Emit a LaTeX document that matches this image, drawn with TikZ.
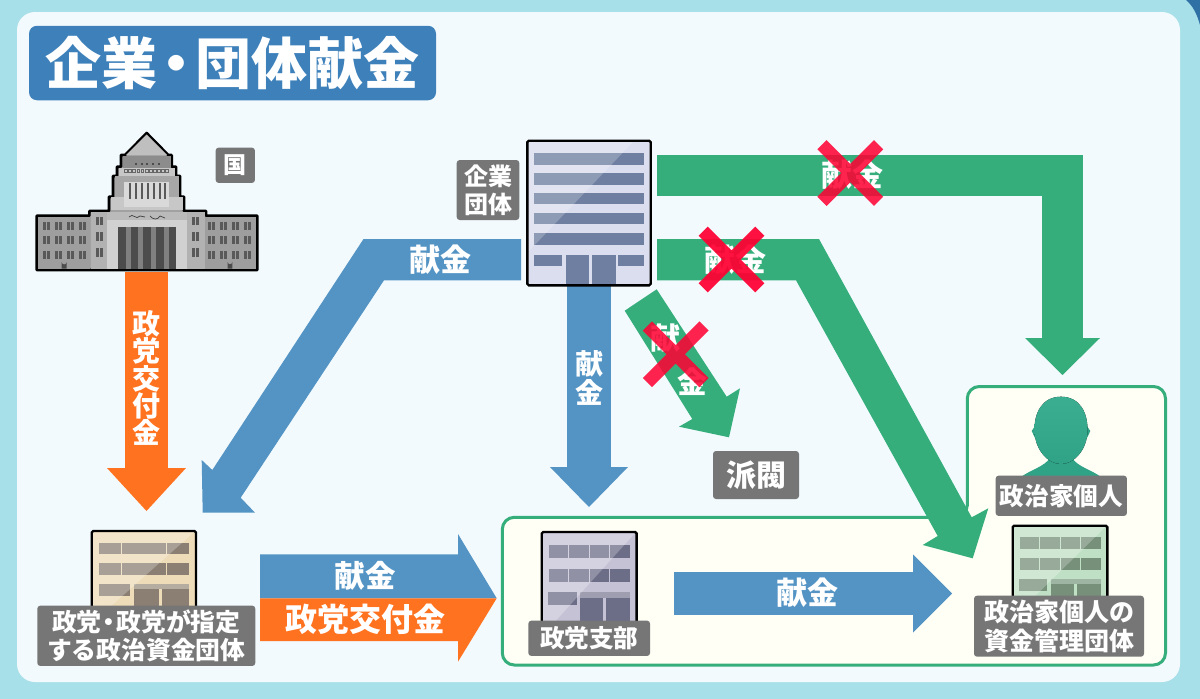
\documentclass[tikz,border=0pt]{standalone}
\usepackage{fontspec}
\setmainfont{Noto Sans CJK JP}
\usetikzlibrary{arrows.meta}
\definecolor{bgteal}{HTML}{A8E0E9}
\definecolor{inner}{HTML}{F2FAFD}
\definecolor{cornerblue}{HTML}{2F70A5}
\definecolor{titleblue}{HTML}{3D80BA}
\definecolor{flowblue}{HTML}{5494C4}
\definecolor{floworange}{HTML}{FF7220}
\definecolor{flowgreen}{HTML}{36AE7C}
\definecolor{tagbg}{HTML}{767676}
\definecolor{panelbg}{HTML}{FFFFF6}
\definecolor{crossred}{RGB}{255,0,50}
\definecolor{personc}{HTML}{3BAE92}
\definecolor{persond}{HTML}{30A387}
\tikzset{
  tag/.style={fill=tagbg,rounded corners=3pt,text=white,font=\bfseries,inner sep=0pt,align=center},
  flowtext/.style={text=white,font=\bfseries,inner sep=0pt,align=center},
  shaft/.style={line width=#1,line join=miter},
  crossbar/.style={crossred,line width=13pt,opacity=.86},
  bldframe/.style={draw=black,line width=2.4pt,rounded corners=1.5pt},
}
% low building: x, y, xscale, yscale, wall, window, band
\newcommand{\lowbld}[7]{%
\begin{scope}[shift={(#1,#2)},xscale=#3,yscale=#4]
  \path[bldframe,fill=#5] (0,0) rectangle (104.3,90);
  \foreach \cx in {7.3,29.8,52.3,74.8}{
    \fill[#6] (\cx+.4,11.7) rectangle (\cx+22.1,23.3);
    \fill[#6] (\cx+.4,32.3) rectangle (\cx+22.1,44);
  }
  \fill[#6] (7.3,53.3) rectangle (38.3,65);
  \fill[#7] (42.3,53.3) rectangle (97.3,58.3);
  \fill[#6] (42.3,58.3) rectangle (67.6,90);
  \fill[#6] (70.6,58.3) rectangle (97.3,90);
  \fill[white,opacity=.25] (1.5,1.5) -- (102,1.5) -- (1.5,91) -- cycle;
\end{scope}}
\begin{document}
\begin{tikzpicture}[x=1pt,y=-1pt]
\useasboundingbox (0,0) rectangle (1200,699);
% backgrounds
\fill[bgteal] (0,0) rectangle (1200,699);
\fill[cornerblue] (1186,0) .. controls (1193,6) and (1197,14) .. (1200,25) -- (1200,0) -- cycle;
\fill[inner,rounded corners=18pt] (17,12) rectangle (1180,682);
% panels
\draw[flowgreen,line width=3pt,fill=panelbg,rounded corners=12pt]
  (502.3,517.3) -- (967.3,517.3) -- (967.3,386.5) -- (1165.5,386.5) -- (1165.5,665) -- (502.3,665) -- cycle;
% title
\node[fill=titleblue,rounded corners=8pt,text=white,font=\bfseries\fontsize{56}{60}\selectfont,
  minimum width=407pt,minimum height=74.5pt,inner sep=0pt] (title) at (232.5,63) {企業\hspace{-9pt}・\hspace{-9pt}団体献金};

% named connector ends
\coordinate (dietOut) at (146.5,272);
\coordinate (partyIn) at (146.5,511);
\coordinate (companyDown) at (589,285);
\coordinate (branchIn) at (589,507);
\coordinate (companyTop) at (657,175.7);
\coordinate (topBend) at (1062.5,175.7);
\coordinate (personIn) at (1062.5,375);
\coordinate (branchOut) at (674,593.5);
\coordinate (fundIn) at (952,593.5);
% orange down
\draw[shaft=43pt,floworange,-{Triangle[length=43pt 0 0,width=79pt 0 0,line width=0pt]}] (dietOut) -- (partyIn);
% blue down
\draw[shaft=43.4pt,flowblue,-{Triangle[length=40pt 0 0,width=78pt 0 0,line width=0pt]}] (companyDown) -- (branchIn);
% green to person
\draw[shaft=41.5pt,flowgreen,-{Triangle[length=37pt 0 0,width=75pt 0 0,line width=0pt]}] (companyTop) -- (topBend) -- (personIn);
% blue branch to fund
\draw[shaft=43.3pt,flowblue,-{Triangle[length=39pt 0 0,width=78pt 0 0,line width=0pt]}] (branchOut) -- (fundIn);
% blue company to party
\fill[flowblue] (521,239) -- (363.5,239) -- (212.3,470) -- (201.7,460) -- (202.7,512.7) -- (255,512.7) -- (240.7,497.7) -- (384,280.3) -- (521,280.3) -- cycle;
% green company to fund
\fill[flowgreen] (657,239) -- (819,239) -- (971.7,517.3) -- (988.3,508.3) -- (972.7,558.3) -- (922.7,545) -- (937.7,536) -- (796,280.3) -- (657,280.3) -- cycle;
% green company to faction
\fill[flowgreen] (656.7,289.3) -- (726.7,396.7) -- (740,388.3) -- (729,437.3) -- (679,426.7) -- (692.3,419) -- (624.7,310.7) -- cycle;
% double arrow
\fill[flowblue] (260,554.3) -- (458,554.3) -- (458,534) -- (496.7,598.3) -- (260,598.3) -- cycle;
\fill[floworange] (260,598.3) -- (496.7,598.3) -- (458,661.7) -- (458,641) -- (260,641) -- cycle;

% Diet building
\draw[line width=2.6pt,line join=round,fill=black!37]
 (146.7,133) -- (168.3,155) -- (171.7,155) -- (171.7,166.7) -- (176,166.7) -- (176,176) -- (180,176) -- (180,196.7) -- (184,196.7) -- (184,211) -- (206,211) -- (206,215.7) -- (257.3,215.7) -- (257.3,270) -- (36.7,270) -- (36.7,215.7) -- (89.3,215.7) -- (89.3,211) -- (109,211) -- (109,196.7) -- (113,196.7) -- (113,176) -- (117,176) -- (117,166.7) -- (121,166.7) -- (121,155) -- (125,155) -- cycle;
\fill[black!25] (146.7,134.5) -- (167,155) -- (126,155) -- cycle;
\fill[black!45] (122.5,156) rectangle (170.5,168);
\foreach \sx in {135,140.7,146.4,152.1,157.8}{\fill[black!70] (\sx,163.2) rectangle (\sx+2,165);}
\fill[black!22] (118.5,168) rectangle (174.5,176);
\foreach \sx in {124.5,128.6,132.7,136.8,140.9,145,149.1,153.2,157.3,161.4,165.5}{\draw[black!60,line width=.5pt] (\sx,169.5) rectangle (\sx+2.8,172.5);}
\fill[black!35] (114.5,176) rectangle (178.5,197);
\fill[black!22] (110.5,197) rectangle (182.5,209.7);
\fill[black!15] (124.3,181.7) rectangle (169.3,207.3);
\foreach \sx in {129,135,141,147,153,159,164}{\fill[black!65] (\sx,182.5) rectangle (\sx+2.2,199);}
\fill[black!30] (90.5,212.3) rectangle (205,268.7);
\fill[black!38] (38,217) rectangle (90,268.7);
\fill[black!38] (205,217) rectangle (256,268.7);
\fill[black!27] (106.7,211.5) rectangle (187.3,220);
\fill[black!18] (106.7,220) rectangle (187.3,268.7);
\fill[black!50] (118.3,226.7) rectangle (176,268.7);
\foreach \sx in {118.3,130.7,143.3,156.3,168.7}{\fill[black!70] (\sx,226.7) rectangle (\sx+7.3,268.7);}
\draw[black!75,line width=.7pt] (129,217) .. controls (133,212) and (136,221) .. (140,216) -- (145,217);
\draw[black!75,line width=.7pt] (150,216) .. controls (153,220) and (158,220) .. (160,216) -- (165,218);
\foreach \wy in {221.7,236,250.7}{
  \foreach \wx in {43,55,67,79,208,220,232,244}{
    \fill[black!65] (\wx,\wy) rectangle (\wx+2.8,\wy+8);
    \fill[black!65] (\wx+4.4,\wy) rectangle (\wx+7.2,\wy+8);
  }
}
\foreach \wy in {216.7,232.3,248.3}{
  \foreach \wx in {95.7,191.7}{
    \fill[black!65] (\wx,\wy) rectangle (\wx+2.8,\wy+8.3);
    \fill[black!65] (\wx+4.2,\wy) rectangle (\wx+7,\wy+8.3);
  }
}
\fill[black!70] (61.7,268.7) -- (61.7,262) arc[start angle=180,end angle=0,radius=2.5] -- (66.7,268.7) -- cycle;
\fill[black!70] (227.7,268.7) -- (227.7,262) arc[start angle=180,end angle=0,radius=2.3] -- (232.3,268.7) -- cycle;

% company building
\path[bldframe,fill={rgb,255:red,218;green,222;blue,238}] (527.3,140.7) rectangle (650.7,285.3);
\definecolor{cowin}{HTML}{6F7FA1}
\foreach \ry/\rb in {153.3/164.7,173.3/184.7,193.3/204.3,212.7/224.3,233.3/245}{\fill[cowin] (534.3,\ry) rectangle (644,\rb);}
\fill[cowin] (534.3,254.7) rectangle (562.3,266);
\fill[cowin] (617.7,254.7) rectangle (644,266);
\fill[cowin] (566,254.7) rectangle (589,284);
\fill[cowin] (591.7,254.7) rectangle (615.7,284);
\fill[white,opacity=.22] (529,142) -- (633,142) -- (529,251) -- cycle;

% low buildings
\definecolor{wallA}{HTML}{EEDCB8}\definecolor{winA}{HTML}{8B7F74}\definecolor{bandA}{HTML}{B5ADA0}
\definecolor{wallB}{HTML}{C6C2D6}\definecolor{winB}{HTML}{6C6D87}\definecolor{bandB}{HTML}{9F9DB0}
\definecolor{wallC}{HTML}{BFE0C5}\definecolor{winC}{HTML}{76907A}\definecolor{bandC}{HTML}{9DB5A2}
\lowbld{91.7}{531}{1}{1}{wallA}{winA}{bandA}
\lowbld{541.7}{532}{.91}{1.13}{wallB}{winB}{bandB}
\lowbld{1012.7}{525.7}{.907}{1}{wallC}{winC}{bandC}

% person
\fill[persond] (1021,477) .. controls (1030,470) and (1044,467) .. (1050,458) -- (1072,458) .. controls (1078,467) and (1092,470) .. (1101,477) -- cycle;
\fill[persond] (1035,426) -- (1031.7,431) -- (1035,438) -- cycle;
\fill[persond] (1087,426) -- (1090.3,431) -- (1087,438) -- cycle;
\fill[top color=personc,bottom color=persond] (1061,396.7) .. controls (1042,396.7) and (1034,413) .. (1034.5,431) .. controls (1035,450) and (1048,464) .. (1061,464) .. controls (1074,464) and (1087,450) .. (1087.5,431) .. controls (1088,413) and (1080,396.7) .. (1061,396.7) -- cycle;

% tags
\node[tag,font=\bfseries\fontsize{23}{25}\selectfont,minimum width=39.3pt,minimum height=35.3pt] (tagKuni) at (235.3,165.3) {国};
\node[tag,font=\bfseries\fontsize{24}{28}\selectfont,minimum width=62.6pt,minimum height=60pt] (tagCompany) at (488,190) {企業\\団体};
\node[tag,font=\bfseries\fontsize{30}{32}\selectfont,minimum width=86pt,minimum height=48pt] (tagFaction) at (756,475) {派閥};
\node[tag,font=\bfseries\fontsize{24.6}{28}\selectfont,minimum width=131.3pt,minimum height=40.3pt] (tagPerson) at (1061.3,495.8) {政治家個人};
\node[tag,font=\bfseries\fontsize{25}{29}\selectfont,minimum width=170pt,minimum height=61pt] (tagFund) at (1059,626.2) {政治家個人の\\資金管理団体};
\node[tag,font=\bfseries\fontsize{24.8}{28.5}\selectfont,minimum width=218pt,minimum height=60.3pt] (tagParty) at (146.3,635.8) {政党\hspace{-5pt}・\hspace{-5pt}政党が指定\\する政治資金団体};
\node[tag,font=\bfseries\fontsize{24.6}{28}\selectfont,minimum width=121.7pt,minimum height=35.3pt] (tagBranch) at (589.2,638.3) {政党支部};

% arrow labels
\node[flowtext,font=\bfseries\fontsize{28}{28}\selectfont] (lOrange) at (146.5,378) {政\\[-.6pt]党\\[-.6pt]交\\[-.6pt]付\\[-.6pt]金};
\node[flowtext,font=\bfseries\fontsize{31}{33}\selectfont] (lBlueLeft) at (440,259.5) {献金};
\node[flowtext,font=\bfseries\fontsize{28}{29}\selectfont] (lBlueDown) at (589,378) {献\\金};
\node[flowtext,font=\bfseries\fontsize{31}{33}\selectfont] (lBlueRight) at (807,593) {献金};
\node[flowtext,font=\bfseries\fontsize{30.5}{33}\selectfont] (lDoubleA) at (365,576) {献金};
\node[flowtext,font=\bfseries\fontsize{32}{34}\selectfont] (lDoubleB) at (365,619.5) {政党交付金};
\node[flowtext,font=\bfseries\fontsize{31}{33}\selectfont] (lGreenTop) at (852,175) {献金};
\node[flowtext,font=\bfseries\fontsize{31}{33}\selectfont] (lGreenMid) at (735.5,260) {献金};
\node[flowtext,font=\bfseries\fontsize{30}{33}\selectfont] (lGreenA) at (665,338) {献};
\node[flowtext,font=\bfseries\fontsize{30}{33}\selectfont] (lGreenB) at (692,382) {金};

% crosses
\foreach \cx/\cy/\op in {850.3/173/.86,731.5/259.5/.93,675.7/354.3/.86}{
  \draw[crossbar,opacity=\op] (\cx-28.3,\cy-28.3) -- (\cx+28.3,\cy+28.3) (\cx-28.3,\cy+28.3) -- (\cx+28.3,\cy-28.3);
}
\end{tikzpicture}
\end{document}
